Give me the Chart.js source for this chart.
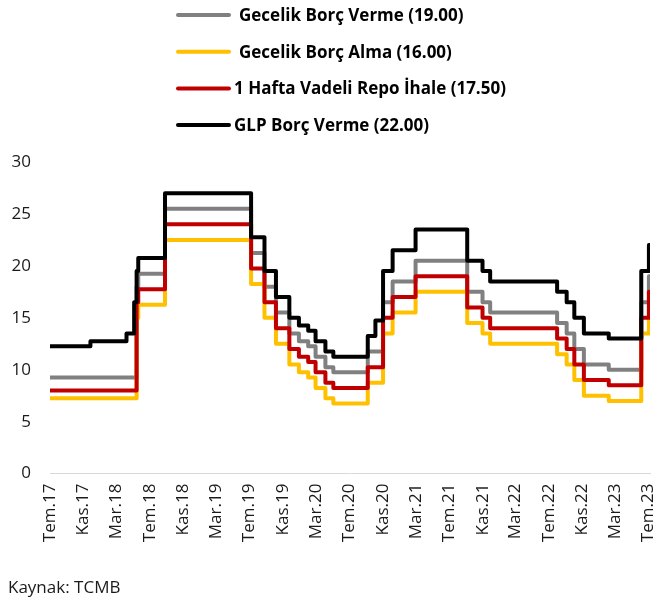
<!DOCTYPE html>
<html lang="tr">
<head>
<meta charset="utf-8">
<title>TCMB faiz oranları</title>
<script src="https://cdn.jsdelivr.net/npm/chart.js@4"></script>
<style>
  html, body { margin: 0; padding: 0; background: #fff; }
  #kutu { width: 656px; height: 603px; position: relative; }
</style>
</head>
<body>
<div id="kutu"><canvas id="chartCanvas"></canvas></div>
<script>
// faiz değişim tarihleri (her tarihte yeni oran başlıyor), son eleman veri sonu
var degisimTarihleri = ['2017-07-19', '2017-12-14', '2018-04-25', '2018-05-23', '2018-06-01', '2018-06-07',
  '2018-09-13', '2019-07-25', '2019-09-12', '2019-10-24', '2019-12-12', '2020-01-16', '2020-02-19',
  '2020-03-17', '2020-04-22', '2020-05-21', '2020-09-24', '2020-10-22', '2020-11-19', '2020-12-24',
  '2021-03-18', '2021-09-23', '2021-11-18', '2021-12-16', '2022-08-18', '2022-09-22', '2022-10-20',
  '2022-11-24', '2023-02-23', '2023-06-22', '2023-07-20', '2023-07-24'];

var gecelikBorcVerme = [9.25, 9.25, 9.25, 9.25, 18.00, 19.25, 25.50, 21.25, 18.00, 15.50, 13.50, 12.75, 12.25,
  11.25, 10.25, 9.75, 11.75, 11.75, 16.50, 18.50, 20.50, 17.50, 16.50, 15.50, 14.50, 13.50, 12.00,
  10.50, 10.00, 16.50, 19.00, 19.00];
var gecelikBorcAlma = [7.25, 7.25, 7.25, 7.25, 15.00, 16.25, 22.50, 18.25, 15.00, 12.50, 10.50, 9.75, 9.25,
  8.25, 7.25, 6.75, 8.75, 8.75, 13.50, 15.50, 17.50, 14.50, 13.50, 12.50, 11.50, 10.50, 9.00,
  7.50, 7.00, 13.50, 16.00, 16.00];
var haftalikRepo = [8.00, 8.00, 8.00, 8.00, 16.50, 17.75, 24.00, 19.75, 16.50, 14.00, 12.00, 11.25, 10.75,
  9.75, 8.75, 8.25, 10.25, 10.25, 15.00, 17.00, 19.00, 16.00, 15.00, 14.00, 13.00, 12.00, 10.50,
  9.00, 8.50, 15.00, 17.50, 17.50];
var glpBorcVerme = [12.25, 12.75, 13.50, 16.50, 19.50, 20.75, 27.00, 22.75, 19.50, 17.00, 15.00, 14.25, 13.75,
  12.75, 11.75, 11.25, 13.25, 14.75, 19.50, 21.50, 23.50, 20.50, 19.50, 18.50, 17.50, 16.50, 15.00,
  13.50, 13.00, 19.50, 22.00, 22.00];

var seriAdlari = ['Gecelik Borç Verme (19.00)', 'Gecelik Borç Alma (16.00)',
  '1 Hafta Vadeli Repo İhale (17.50)', 'GLP Borç Verme (22.00)'];

// x ekseni etiketleri (4 ayda bir)
var etiketTarihleri = ['2017-07-19', '2017-11-19', '2018-03-19', '2018-07-19', '2018-11-19', '2019-03-19',
  '2019-07-19', '2019-11-19', '2020-03-19', '2020-07-19', '2020-11-19', '2021-03-19', '2021-07-19',
  '2021-11-19', '2022-03-19', '2022-07-19', '2022-11-19', '2023-03-19', '2023-07-19'];
var etiketler = ['Tem.17', 'Kas.17', 'Mar.18', 'Tem.18', 'Kas.18', 'Mar.19', 'Tem.19', 'Kas.19', 'Mar.20',
  'Tem.20', 'Kas.20', 'Mar.21', 'Tem.21', 'Kas.21', 'Mar.22', 'Tem.22', 'Kas.22', 'Mar.23', 'Tem.23'];

var yTikler = [0, 5, 10, 15, 20, 25, 30];

// tarihi gün sayısına çevir
function gun(s) {
  return Date.parse(s + 'T00:00:00Z') / 86400000;
}

function noktalar(degerler) {
  return degisimTarihleri.map(function(t, i) {
    return { x: gun(t), y: degerler[i] };
  });
}

function seri(ad, degerler, renk, sira) {
  return {
    label: ad,
    data: noktalar(degerler),
    borderColor: renk,
    backgroundColor: renk,
    borderWidth: 4,
    stepped: true,
    pointRadius: 0,
    borderJoinStyle: 'round',
    order: sira,
    fill: false
  };
}

// lejant: alt alta dört satır
var dikeyLejant = {
  id: 'dikeyLejant',
  afterDraw: function(chart) {
    var ctx = chart.ctx;
    ctx.save();
    chart.data.datasets.forEach(function(ds, i) {
      var y = 15 + i * 36.7;
      ctx.strokeStyle = ds.borderColor;
      ctx.lineWidth = 4;
      ctx.lineCap = 'round';
      ctx.beginPath();
      ctx.moveTo(178, y);
      ctx.lineTo(229, y);
      ctx.stroke();
      ctx.fillStyle = '#000';
      ctx.font = 'bold 17px "Open Sans"';
      ctx.textBaseline = 'middle';
      ctx.textAlign = 'left';
      ctx.fillText(ds.label, i < 2 ? 239 : 234, y + 1);
    });
    ctx.restore();
  }
};

var ctx = document.getElementById('chartCanvas').getContext('2d');
Chart.defaults.font.family = '"Open Sans", sans-serif';
Chart.defaults.color = '#1a1a1a';

new Chart(ctx, {
  type: 'line',
  data: {
    datasets: [
      seri(seriAdlari[0], gecelikBorcVerme, '#808080', 3),
      seri(seriAdlari[1], gecelikBorcAlma, '#FFC000', 2),
      seri(seriAdlari[2], haftalikRepo, '#C00000', 1),
      seri(seriAdlari[3], glpBorcVerme, '#000000', 0)
    ]
  },
  options: {
    responsive: true,
    maintainAspectRatio: false,
    animation: false,
    layout: { padding: { top: 162, left: 8, right: 6, bottom: 5 } },
    plugins: {
      legend: { display: false },
      tooltip: { enabled: false },
      title: {
        display: true,
        text: 'Kaynak: TCMB',
        position: 'bottom',
        align: 'start',
        font: { size: 17, weight: 'normal' },
        color: '#1a1a1a',
        padding: 0
      }
    },
    scales: {
      x: {
        type: 'linear',
        min: gun(degisimTarihleri[0]),
        max: gun(degisimTarihleri[degisimTarihleri.length - 1]),
        grid: { display: false, drawTicks: false },
        border: { display: true, color: '#d9d9d9', width: 1 },
        afterBuildTicks: function(scale) {
          scale.ticks = etiketTarihleri.map(function(t) { return { value: gun(t) }; });
        },
        afterFit: function(scale) {
          scale.height = 104;
          // döndürülmüş etiketler için eklenen kenar boşluklarını kaldır
          scale.paddingLeft = 0;
          scale.paddingRight = 0;
        },
        ticks: {
          autoSkip: false,
          minRotation: 90,
          maxRotation: 90,
          padding: 10,
          font: { size: 17 },
          callback: function(value, index) { return etiketler[index]; }
        }
      },
      y: {
        min: 0,
        max: 30,
        grid: { display: false, drawTicks: false },
        border: { display: false },
        afterBuildTicks: function(scale) {
          scale.ticks = yTikler.map(function(v) { return { value: v }; });
        },
        afterFit: function(scale) { scale.width = 42; },
        ticks: {
          padding: 19,
          font: { size: 17 }
        }
      }
    }
  },
  plugins: [dikeyLejant]
});
</script>
</body>
</html>
